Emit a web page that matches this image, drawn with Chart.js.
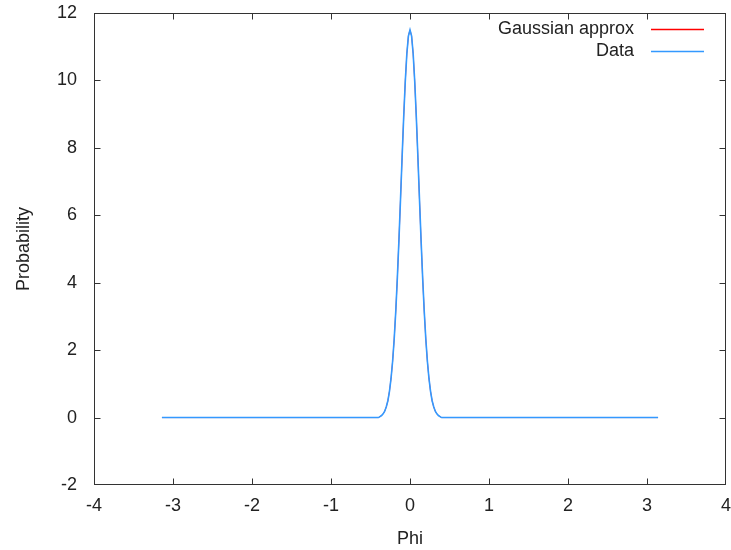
<!DOCTYPE html>
<html>
<head>
<meta charset="utf-8">
<script src="https://cdn.jsdelivr.net/npm/chart.js@4/dist/chart.umd.min.js"></script>
<style>
  html, body { margin: 0; padding: 0; background: #fff; }
  canvas { display: block; }
</style>
</head>
<body>
<canvas id="c" width="731" height="550"></canvas>
<script>
// ---- data ----
const seriesNames = ["Gaussian approx", "Data"];
const phiValues = [-3.14, -0.40, -0.38, -0.36, -0.34, -0.32, -0.30, -0.28, -0.26, -0.24, -0.22,
  -0.20, -0.18, -0.16, -0.14, -0.12, -0.10, -0.08, -0.06, -0.04, -0.02, 0.00,
  0.02, 0.04, 0.06, 0.08, 0.10, 0.12, 0.14, 0.16, 0.18, 0.20,
  0.22, 0.24, 0.26, 0.28, 0.30, 0.32, 0.34, 0.36, 0.38, 0.40, 3.14];
const dataValues = [0, 0.00, 0.03, 0.06, 0.11, 0.19, 0.32, 0.50, 0.78, 1.16, 1.67,
  2.33, 3.16, 4.15, 5.27, 6.48, 7.72, 8.91, 9.96, 10.79, 11.32, 11.50,
  11.32, 10.79, 9.96, 8.91, 7.72, 6.48, 5.27, 4.15, 3.16, 2.33,
  1.67, 1.16, 0.78, 0.50, 0.32, 0.19, 0.11, 0.06, 0.03, 0.00, 0];
const gaussValues = [0, 0.00, 0.03, 0.06, 0.11, 0.19, 0.32, 0.50, 0.78, 1.16, 1.67,
  2.33, 3.16, 4.15, 5.27, 6.48, 7.72, 8.91, 9.96, 10.79, 11.32, 11.50,
  11.32, 10.79, 9.96, 8.91, 7.72, 6.48, 5.27, 4.15, 3.16, 2.33,
  1.67, 1.16, 0.78, 0.50, 0.32, 0.19, 0.11, 0.06, 0.03, 0.00, 0];
const xTicks = [-4, -3, -2, -1, 0, 1, 2, 3, 4];
const yTicks = [-2, 0, 2, 4, 6, 8, 10, 12];

const FONT = "'Liberation Sans', Arial, sans-serif";
const TEXT = "#222";

const framePlugin = {
  id: 'frame',
  beforeDatasetsDraw(chart) {
    const {ctx, chartArea: a, scales: {x, y}} = chart;
    ctx.save();
    ctx.strokeStyle = '#333';
    ctx.lineWidth = 1;
    const L = Math.round(a.left) + 0.5, R = Math.round(a.right) - 0.5;
    const T = Math.round(a.top) + 0.5, B = Math.round(a.bottom) - 0.5;
    ctx.strokeRect(L, T, R - L, B - T);
    const len = 6;
    ctx.beginPath();
    xTicks.forEach(v => {
      const px = Math.round(x.getPixelForValue(v)) + 0.5;
      if (v === xTicks[0] || v === xTicks[xTicks.length - 1]) return;
      ctx.moveTo(px, B); ctx.lineTo(px, B - len);
      ctx.moveTo(px, T); ctx.lineTo(px, T + len);
    });
    yTicks.forEach(v => {
      const py = Math.round(y.getPixelForValue(v)) + 0.5;
      if (v === yTicks[0] || v === yTicks[yTicks.length - 1]) return;
      ctx.moveTo(L, py); ctx.lineTo(L + len, py);
      ctx.moveTo(R, py); ctx.lineTo(R - len, py);
    });
    ctx.stroke();
    ctx.restore();
  },
  afterDraw(chart) {
    const {ctx, chartArea: a} = chart;
    ctx.save();
    ctx.font = "18px " + FONT;
    ctx.fillStyle = TEXT;
    ctx.textAlign = 'right';
    ctx.textBaseline = 'middle';
    const textRight = a.right - 92;
    const lineL = a.right - 75, lineR = a.right - 22;
    chart.data.datasets.forEach((ds, i) => {
      const yy = a.top + 16 + i * 22;
      ctx.fillText(ds.label, textRight, yy);
      ctx.strokeStyle = ds.borderColor;
      ctx.lineWidth = 1.5;
      ctx.beginPath();
      ctx.moveTo(lineL, Math.round(yy) + 0.5);
      ctx.lineTo(lineR, Math.round(yy) + 0.5);
      ctx.stroke();
    });
    ctx.restore();
  }
};

new Chart(document.getElementById('c'), {
  type: 'line',
  data: {
    datasets: [
      {
        label: seriesNames[0],
        data: phiValues.map((p, i) => ({x: p, y: gaussValues[i]})),
        borderColor: '#ff0000',
        borderWidth: 0.8,
        pointRadius: 0,
        tension: 0,
        fill: false,
        order: 2
      },
      {
        label: seriesNames[1],
        data: phiValues.map((p, i) => ({x: p, y: dataValues[i]})),
        borderColor: '#3399ff',
        borderWidth: 1.6,
        pointRadius: 0,
        tension: 0,
        fill: false,
        order: 1
      }
    ]
  },
  options: {
    responsive: false,
    animation: false,
    devicePixelRatio: 1,
    layout: { padding: { top: 13, right: 5, left: 0, bottom: 0 } },
    plugins: { legend: { display: false }, tooltip: { enabled: false } },
    scales: {
      x: {
        type: 'linear',
        min: -4, max: 4,
        afterBuildTicks: s => { s.ticks = xTicks.map(v => ({value: v})); },
        afterFit: s => { s.height = 65; s.paddingLeft = 0; s.paddingRight = 0; },
        grid: { display: false, drawTicks: false },
        border: { display: false },
        ticks: { padding: 10, color: TEXT, font: { family: FONT, size: 18 }, maxRotation: 0 },
        title: { display: true, text: 'Phi', color: TEXT, font: { family: FONT, size: 18 }, padding: { top: 0, bottom: 0 } }
      },
      y: {
        type: 'linear',
        min: -2, max: 12,
        afterBuildTicks: s => { s.ticks = yTicks.map(v => ({value: v})); },
        afterFit: s => { s.width = 94; s.paddingTop = 0; s.paddingBottom = 0; },
        grid: { display: false, drawTicks: false },
        border: { display: false },
        ticks: { padding: 17, color: TEXT, font: { family: FONT, size: 18 } },
        title: { display: true, text: 'Probability', color: TEXT, font: { family: FONT, size: 18 }, padding: { top: 13, bottom: 0 } }
      }
    }
  },
  plugins: [framePlugin]
});
</script>
</body>
</html>
